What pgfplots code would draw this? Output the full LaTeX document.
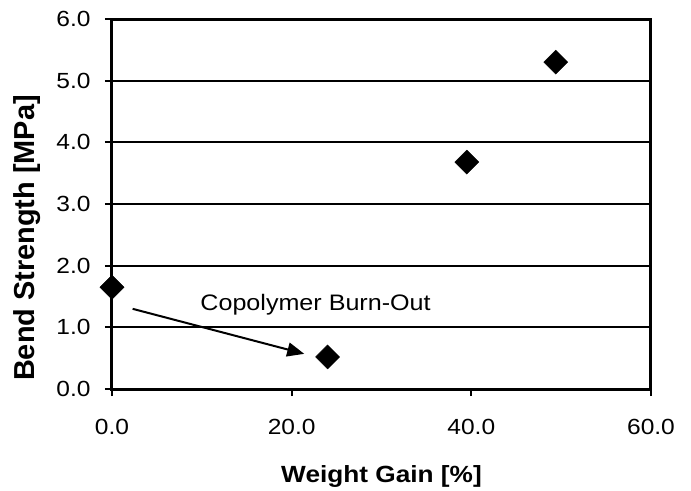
\documentclass[border=0pt]{standalone}
\usepackage{fontspec}
\setmainfont{Liberation Sans}[FakeStretch=1.12]
\newfontfamily\ylfont{Liberation Sans}
\usepackage{pgfplots}
\pgfplotsset{compat=1.18}
\usetikzlibrary{arrows.meta}
\begin{document}
\begin{tikzpicture}
\useasboundingbox (-112bp,-102bp) rectangle (579bp,389bp);
\begin{axis}[
  at={(0,0)}, anchor=south west,
  scale only axis, width=539bp, height=370bp,
  xmin=0, xmax=60, ymin=0, ymax=6,
  xtick={0,20,40,60}, xticklabels={0.0,20.0,40.0,60.0},
  ytick={0,1,2,3,4,5,6}, yticklabels={0.0,1.0,2.0,3.0,4.0,5.0,6.0},
  tick align=outside, tick pos=left, major tick length=7bp,
  tick style={line width=2bp, black},
  axis line style={line width=3bp, black},
  ymajorgrids, major grid style={line width=2.2bp, black},
  ticklabel style={font=\fontsize{22}{26}\selectfont},
  xticklabel style={yshift=-20bp},
  yticklabel style={xshift=-11bp},
  xlabel={Weight Gain [\%]},
  xlabel style={at={(axis description cs:0.5,-0.2514)}, anchor=base, font=\bfseries\fontsize{23.5}{27}\selectfont},
  ylabel={Bend Strength [MPa]},
  ylabel style={at={(axis description cs:-0.1447,0.408)}, anchor=base, rotate=0, font=\ylfont\bfseries\fontsize{29}{32}\selectfont},
  clip=false,
]
\addplot[only marks, mark=square*, mark size=8.5bp,
  mark options={rotate=45, fill=black, draw=black, line width=0.4bp}]
  coordinates {(0,1.65) (24,0.52) (39.5,3.68) (49.4,5.30)};
\draw[line width=2bp, -{Triangle[length=17bp,width=14bp]}] (axis cs:2.3,1.30) -- (axis cs:21.4,0.57);
\node[anchor=base, font=\fontsize{22.5}{26}\selectfont] at (axis cs:22.66,1.27) {Copolymer Burn-Out};
\end{axis}
\end{tikzpicture}
\end{document}
